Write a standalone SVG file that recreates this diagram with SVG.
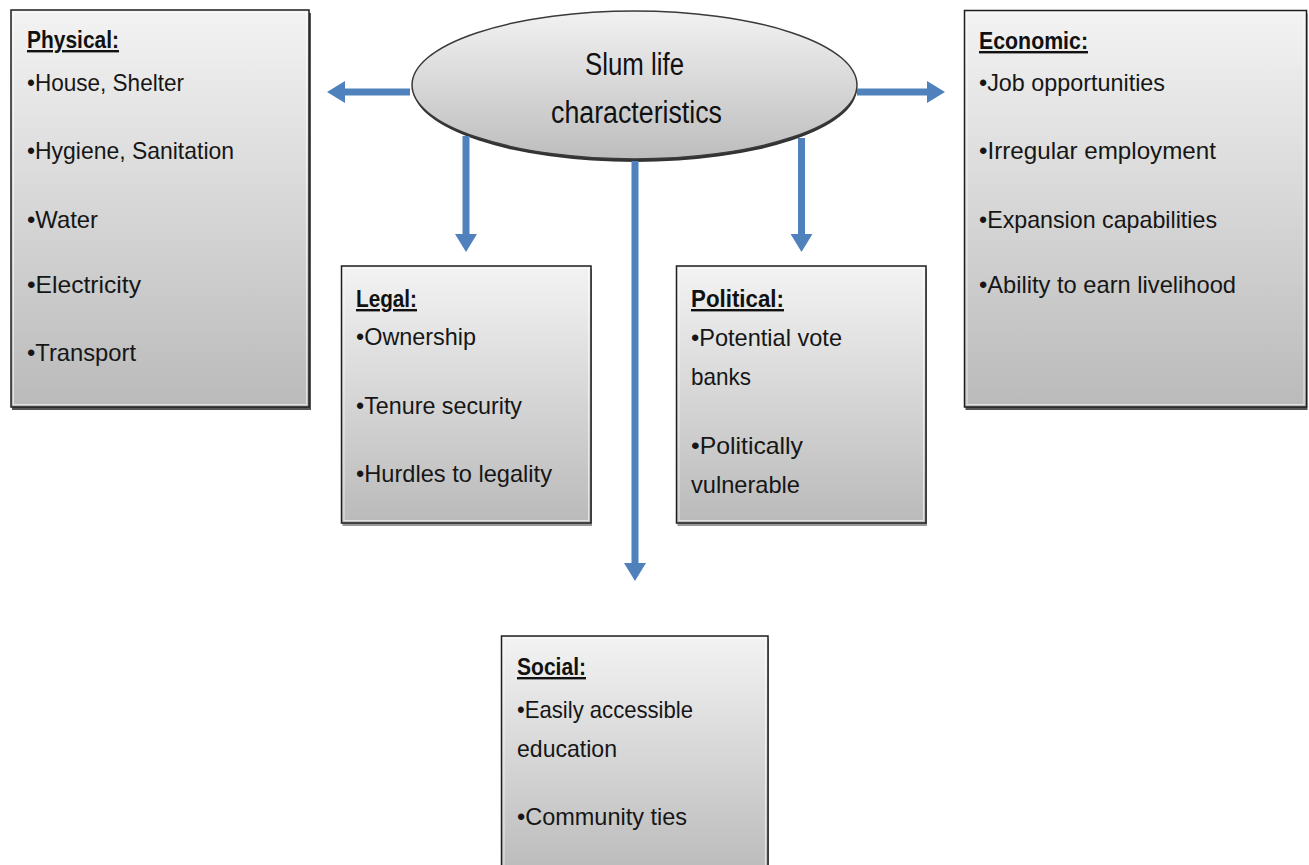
<svg xmlns="http://www.w3.org/2000/svg" width="1309" height="865" viewBox="0 0 1309 865">
  <style>
    .box { fill: url(#boxGrad); stroke: #1e1e1e; stroke-width: 1.5; }
    .shadow { fill: #555555; }
    .hl { fill: none; stroke: #ffffff; stroke-opacity: 0.6; stroke-width: 1; }
    .title { font-family: "Liberation Sans", Arial, sans-serif; font-size: 24px; font-weight: bold; fill: #111111; text-decoration: underline; }
    .item { font-family: "Liberation Sans", Arial, sans-serif; font-size: 24px; fill: #161616; }
    .center { font-family: "Liberation Sans", Arial, sans-serif; font-size: 31px; fill: #111111; text-anchor: middle; }
    .conn { stroke: #4f81bd; stroke-width: 7; fill: none; }
  </style>
  <defs>
    <linearGradient id="boxGrad" x1="0" y1="0" x2="0" y2="1">
      <stop offset="0" stop-color="#f3f3f3"/>
      <stop offset="1" stop-color="#bababa"/>
    </linearGradient>
    <linearGradient id="ellGrad" x1="0" y1="0" x2="0" y2="1">
      <stop offset="0" stop-color="#f2f2f2"/>
      <stop offset="1" stop-color="#bdbdbd"/>
    </linearGradient>
    <marker id="head" viewBox="0 -11 18 22" refX="0" refY="0" markerWidth="18" markerHeight="22" markerUnits="userSpaceOnUse" orient="auto">
      <path d="M0,-11 L18,0 L0,11 Z" fill="#4f81bd"/>
    </marker>
  </defs>

  <rect width="1309" height="865" fill="#ffffff"/>

  <g id="physical">
    <rect class="shadow" x="12" y="13" width="299" height="397"/>
    <rect class="box" x="11" y="10" width="298" height="397"/>
    <rect class="hl" x="13.5" y="12.5" width="293" height="392"/>
    <text class="title" x="27" y="48" textLength="92" lengthAdjust="spacingAndGlyphs">Physical:</text>
    <text class="item" x="27" y="91" textLength="157" lengthAdjust="spacingAndGlyphs">•House, Shelter</text>
    <text class="item" x="27" y="159" textLength="207" lengthAdjust="spacingAndGlyphs">•Hygiene, Sanitation</text>
    <text class="item" x="27" y="228" textLength="71" lengthAdjust="spacingAndGlyphs">•Water</text>
    <text class="item" x="27" y="293" textLength="114" lengthAdjust="spacingAndGlyphs">•Electricity</text>
    <text class="item" x="27" y="361" textLength="109" lengthAdjust="spacingAndGlyphs">•Transport</text>
  </g>

  <g id="economic">
    <rect class="shadow" x="965.5" y="13.5" width="342" height="396.5"/>
    <rect class="box" x="964.5" y="10.5" width="342" height="396.5"/>
    <rect class="hl" x="967" y="13" width="337" height="391.5"/>
    <text class="title" x="979" y="49" textLength="109" lengthAdjust="spacingAndGlyphs">Economic:</text>
    <text class="item" x="979" y="91" textLength="186" lengthAdjust="spacingAndGlyphs">•Job opportunities</text>
    <text class="item" x="979" y="159" textLength="237" lengthAdjust="spacingAndGlyphs">•Irregular employment</text>
    <text class="item" x="979" y="228" textLength="238" lengthAdjust="spacingAndGlyphs">•Expansion capabilities</text>
    <text class="item" x="979" y="293" textLength="257" lengthAdjust="spacingAndGlyphs">•Ability to earn livelihood</text>
  </g>

  <g id="legal">
    <rect class="shadow" x="342.5" y="269" width="249.5" height="257" fill-opacity="0.6"/>
    <rect class="box" x="341.5" y="266" width="249.5" height="257"/>
    <rect class="hl" x="344" y="268.5" width="244.5" height="252"/>
    <text class="title" x="356" y="307" textLength="61" lengthAdjust="spacingAndGlyphs">Legal:</text>
    <text class="item" x="356" y="345" textLength="120" lengthAdjust="spacingAndGlyphs">•Ownership</text>
    <text class="item" x="356" y="414" textLength="166" lengthAdjust="spacingAndGlyphs">•Tenure security</text>
    <text class="item" x="356" y="482" textLength="196" lengthAdjust="spacingAndGlyphs">•Hurdles to legality</text>
  </g>

  <g id="political">
    <rect class="shadow" x="677.5" y="269" width="249.5" height="257" fill-opacity="0.6"/>
    <rect class="box" x="676.5" y="266" width="249.5" height="257"/>
    <rect class="hl" x="679" y="268.5" width="244.5" height="252"/>
    <text class="title" x="691" y="307" textLength="93" lengthAdjust="spacingAndGlyphs">Political:</text>
    <text class="item" x="691" y="346" textLength="151" lengthAdjust="spacingAndGlyphs">•Potential vote</text>
    <text class="item" x="691" y="385" textLength="60" lengthAdjust="spacingAndGlyphs">banks</text>
    <text class="item" x="691" y="454" textLength="112" lengthAdjust="spacingAndGlyphs">•Politically</text>
    <text class="item" x="691" y="493" textLength="109" lengthAdjust="spacingAndGlyphs">vulnerable</text>
  </g>

  <g id="social">
    <rect class="shadow" x="502.5" y="639" width="266.5" height="240" fill-opacity="0.6"/>
    <rect class="box" x="501.5" y="636" width="266.5" height="240"/>
    <rect class="hl" x="504" y="638.5" width="261.5" height="235"/>
    <text class="title" x="517" y="675" textLength="69" lengthAdjust="spacingAndGlyphs">Social:</text>
    <text class="item" x="517" y="718" textLength="176" lengthAdjust="spacingAndGlyphs">•Easily accessible</text>
    <text class="item" x="517" y="757" textLength="100" lengthAdjust="spacingAndGlyphs">education</text>
    <text class="item" x="517" y="825" textLength="170" lengthAdjust="spacingAndGlyphs">•Community ties</text>
  </g>

  <g id="slum-life">
    <ellipse cx="635" cy="88" rx="222" ry="74" fill="#333333"/>
    <ellipse cx="634.5" cy="85" rx="222.5" ry="74" fill="url(#ellGrad)" stroke="#3a3a3a" stroke-width="1.5"/>
    <text class="center" x="634.5" y="75" textLength="99" lengthAdjust="spacingAndGlyphs">Slum life</text>
    <text class="center" x="636.5" y="123" textLength="171" lengthAdjust="spacingAndGlyphs">characteristics</text>
  </g>

  <g id="connectors">
    <line class="conn" x1="410" y1="92" x2="345" y2="92" marker-end="url(#head)"/>
    <line class="conn" x1="857" y1="92" x2="927" y2="92" marker-end="url(#head)"/>
    <line class="conn" x1="466" y1="136" x2="466" y2="234" marker-end="url(#head)"/>
    <line class="conn" x1="801.5" y1="138" x2="801.5" y2="234" marker-end="url(#head)"/>
    <line class="conn" x1="635" y1="161" x2="635" y2="563" marker-end="url(#head)"/>
  </g>
</svg>
